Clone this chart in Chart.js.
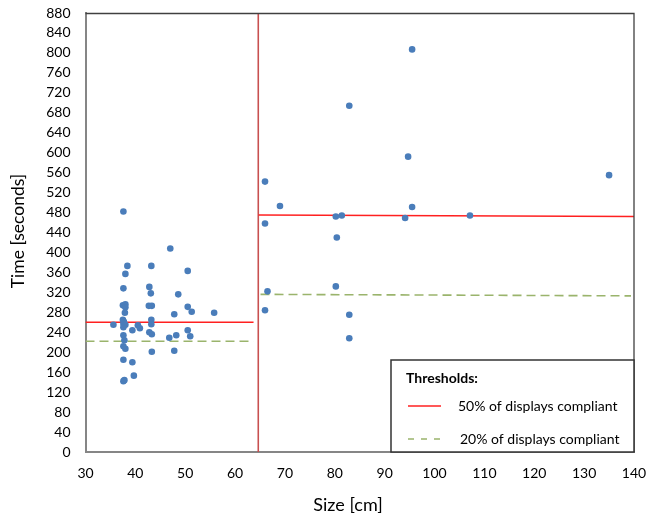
<!DOCTYPE html>
<html>
<head>
<meta charset="utf-8">
<script src="https://cdn.jsdelivr.net/npm/chart.js@4.4.1/dist/chart.umd.min.js"></script>
<style>
html,body{margin:0;padding:0;background:#fff;}
#wrap{width:648px;height:515px;position:relative;}
</style>
</head>
<body>
<div id="wrap"><canvas id="c"></canvas></div>
<script>
// ---- data ----
const sizeCm = [
  37.6,47.0,38.4,43.2,38.0,50.5,37.6,42.8,43.1,48.6,
  37.5,38.0,38.0,42.7,43.3,50.5,51.3,55.8,47.8,37.9,
  37.5,37.7,43.2,37.6,38.0,43.2,35.6,37.6,40.5,40.9,
  39.4,42.8,43.3,50.5,48.2,51.0,46.8,37.6,37.8,37.6,
  38.0,43.3,47.8,37.6,39.4,39.7,37.6,37.8,
  95.5,82.9,94.7,135.0,66.0,69.0,95.5,80.2,81.4,94.1,
  107.1,66.0,80.4,80.2,66.5,66.0,82.9,82.9
];
const timeSec = [
  482,408,373,373,357,363,328,331,318,316,
  294,296,290,293,293,291,281,279,276,279,
  265,261,265,257,255,256,255,250,254,248,
  244,240,236,244,234,232,229,234,224,212,
  207,201,203,185,180,153,142,144,
  807,694,592,555,542,493,491,472,474,469,
  474,458,430,332,322,284,275,228
];
// threshold segments (size, time)
const thr50LeftX = [30, 63.7],  thr50LeftY = [260, 260];
const thr20LeftX = [30, 63.7],  thr20LeftY = [222, 222];
const thr50RightX = [64.7, 140], thr50RightY = [475, 472];
const thr20RightX = [65.1, 139.4], thr20RightY = [316, 313];
const splitX = [64.65, 64.65], splitY = [0, 880];
const xTicks = {min: 30, max: 140, step: 10};
const yTicks = {min: 0, max: 880, step: 40};
const xTitle = 'Size [cm]';
const yTitle = 'Time [seconds]';
const legendTitle = 'Thresholds:';
const legendLabels = ['50% of displays compliant', '20% of displays compliant'];

const pts = (xs, ys) => xs.map((x, i) => ({x, y: ys[i]}));

const RED = '#FF2020', GREEN = '#9AB46C', SPLIT = '#C85050', BLUE = '#4A7DBA';
const FONT = 'Lato, "Open Sans", sans-serif';

const lineDs = (xs, ys, color, dash) => ({
  type: 'line', data: pts(xs, ys), borderColor: color, borderWidth: 1.6,
  borderDash: dash || [], pointRadius: 0, fill: false, order: 2, tension: 0
});

const frameAndLegend = {
  id: 'frameAndLegend',
  afterDatasetsDraw(chart) {
    const {ctx, chartArea: a} = chart;
    ctx.save();
    // top and right frame
    ctx.strokeStyle = '#404040';
    ctx.lineWidth = 1.3;
    ctx.beginPath();
    ctx.moveTo(a.left, a.top + 0.5);
    ctx.lineTo(a.right, a.top + 0.5);
    ctx.lineTo(a.right, a.bottom);
    ctx.stroke();
    // axis titles
    ctx.fillStyle = '#000';
    ctx.textBaseline = 'middle';
    ctx.textAlign = 'center';
    ctx.font = '18px ' + FONT;
    ctx.fillText(xTitle, 348, 505);
    ctx.save();
    ctx.translate(18.5, 231);
    ctx.rotate(-Math.PI / 2);
    ctx.font = '17.5px ' + FONT;
    ctx.fillText(yTitle, 0, 0);
    ctx.restore();
    // legend box
    const bx = 391, by = 360, bw = a.right - 391, bh = a.bottom - 360;
    ctx.fillStyle = '#fff';
    ctx.fillRect(bx, by, bw, bh);
    ctx.strokeStyle = '#333';
    ctx.lineWidth = 1.5;
    ctx.strokeRect(bx, by, bw, bh);
    ctx.fillStyle = '#000';
    ctx.textAlign = 'left';
    ctx.textBaseline = 'alphabetic';
    ctx.font = 'bold 14px ' + FONT;
    ctx.fillText(legendTitle, 406, 383);
    ctx.font = '14px ' + FONT;
    ctx.fillText(legendLabels[0], 458, 411);
    ctx.fillText(legendLabels[1], 460, 444);
    ctx.lineWidth = 1.3;
    ctx.strokeStyle = RED;
    ctx.beginPath(); ctx.moveTo(408, 406); ctx.lineTo(441, 406); ctx.stroke();
    ctx.strokeStyle = GREEN;
    ctx.setLineDash([6, 7]);
    ctx.beginPath(); ctx.moveTo(408, 439); ctx.lineTo(441, 439); ctx.stroke();
    ctx.restore();
  }
};

new Chart(document.getElementById('c'), {
  type: 'scatter',
  data: {
    datasets: [
      {type: 'scatter', data: pts(sizeCm, timeSec), backgroundColor: BLUE, borderColor: BLUE,
       pointRadius: 3.3, pointHoverRadius: 3.3, borderWidth: 0, order: 1},
      lineDs(thr50LeftX, thr50LeftY, RED),
      lineDs(thr20LeftX, thr20LeftY, GREEN, [9, 5]),
      lineDs(thr50RightX, thr50RightY, RED),
      lineDs(thr20RightX, thr20RightY, GREEN, [9, 5]),
      lineDs(splitX, splitY, SPLIT)
    ]
  },
  options: {
    responsive: true, maintainAspectRatio: false, animation: false,
    layout: {padding: {left: 0, top: 13, right: 14, bottom: 0}},
    plugins: {legend: {display: false}, tooltip: {enabled: false}},
    scales: {
      x: {
        type: 'linear', min: xTicks.min, max: xTicks.max,
        ticks: {stepSize: xTicks.step, autoSkip: false, maxRotation: 0, padding: 13, color: '#000', font: {family: FONT, size: 14}},
        grid: {display: false, drawTicks: false},
        border: {display: true, color: '#868686', width: 2},
        title: {display: false},
        afterFit(s) { s.height = 63; s.paddingLeft = 0; s.paddingRight = 0; }
      },
      y: {
        type: 'linear', min: yTicks.min, max: yTicks.max,
        ticks: {stepSize: yTicks.step, autoSkip: false, padding: 15, color: '#000', font: {family: FONT, size: 14}},
        grid: {display: false, drawTicks: false},
        border: {display: true, color: '#868686', width: 2},
        title: {display: false},
        afterFit(s) { s.width = 85.5; s.paddingTop = 0; s.paddingBottom = 0; }
      }
    }
  },
  plugins: [frameAndLegend]
});
</script>
</body>
</html>
